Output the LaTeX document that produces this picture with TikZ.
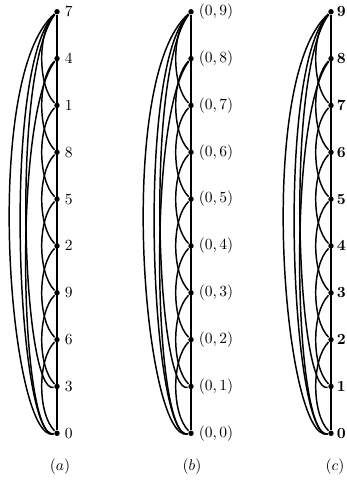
\documentclass[tikz,border=0pt]{standalone}
\begin{document}
\begin{tikzpicture}[x=0.645pt,y=0.645pt,line width=0.95pt,
  vtx/.style={circle,fill,inner sep=0pt,minimum size=3.5pt},
  lbl/.style={right=1.2pt}]
\useasboundingbox (0,0) rectangle (346,-483);
\foreach \p/\x in {a/57,b/191,c/331}{
  \foreach \k in {0,...,9}
    \node[vtx] (\p\k) at (\x,{-433.3+46.84*\k}) {};
  \draw (\p0)--(\p9);
  \foreach \k [evaluate=\k as \j using int(\k+2)] in {0,...,7}
    \draw (\p\j) to[bend right=45,looseness=.7] (\p\k);
  \draw (\p9) .. controls +(221:102) and +(193:48) .. (\p0);
  \draw (\p9) .. controls +(225:80) and +(192:40) .. (\p0);
  \draw (\p9) .. controls +(232:75) and +(195:36) .. (\p1);
  \draw (\p8) .. controls +(232:72) and +(190:38) .. (\p0);
}
\foreach \k in {0,...,9}{
  \pgfmathtruncatemacro\m{mod(3*\k,10)}
  \node[lbl] (la\k) at (a\k.center) {$\m$};
  \node[lbl] (lb\k) at (b\k.center) {$(0,\k)$};
  \node[right=0pt] (lc\k) at (c\k.center) {$\mathbf{\k}$};
}
\node (capa) at (60,-467) {$(a)$};
\node (capb) at (192,-467) {$(b)$};
\node (capc) at (335,-467) {$(c)$};
\end{tikzpicture}
\end{document}
